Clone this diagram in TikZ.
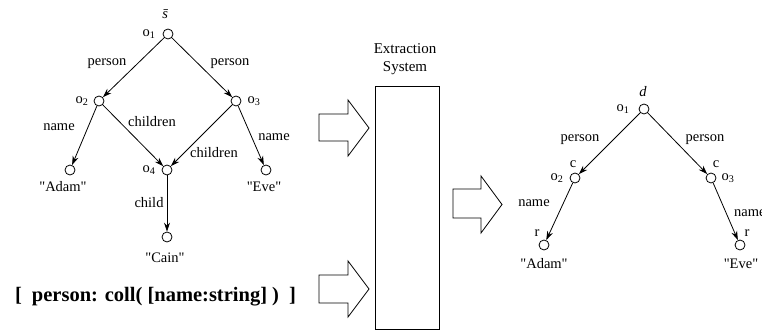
\documentclass[tikz,border=0pt]{standalone}
\usepackage{fontspec}
\setmainfont{Liberation Serif}
\usetikzlibrary{arrows.meta}
\newcommand{\qq}[1]{\textquotedbl#1\textquotedbl}
\begin{document}
\begin{tikzpicture}[x=1pt,y=-1pt,
  vtx/.style={circle,draw,line width=0.8pt,minimum size=10pt,inner sep=0pt},
  lbl/.style={font=\fontsize{14.5}{16}\selectfont,inner sep=0pt},
  arr/.style={line width=0.8pt,-{Stealth[length=9pt,width=6pt]}},
  blk/.style={draw,line width=0.8pt,line join=miter}]
\useasboundingbox (0,0) rectangle (762,334);
% ---- left graph
\node[vtx] (a1) at (168,34) {};
\node[vtx] (a2) at (99,101) {};
\node[vtx] (a3) at (236,101) {};
\node[vtx] (aadam) at (70,170) {};
\node[vtx] (a4) at (167,170) {};
\node[vtx] (aeve) at (266,170) {};
\node[vtx] (acain) at (167,237) {};
\node[lbl] (sbar) at (167,14) {\textit{\=s}};
\node[lbl] (la1) at (149,34) {o\textsubscript{1}};
\node[lbl] (la2) at (82,101) {o\textsubscript{2}};
\node[lbl] (la3) at (254,101) {o\textsubscript{3}};
\node[lbl] (la4) at (149,170) {o\textsubscript{4}};
\node[lbl] (tadam) at (63,187) {\qq{Adam}};
\node[lbl] (teve) at (264,187) {\qq{Eve}};
\node[lbl] (tcain) at (165,258) {\qq{Cain}};
\draw[arr] (a1) -- (a2);
\draw[arr] (a1) -- (a3);
\draw[arr] (a2) -- (aadam);
\draw[arr] (a2) -- (a4);
\draw[arr] (a3) -- (a4);
\draw[arr] (a3) -- (aeve);
\draw[arr] (a4) -- (acain);
\node[lbl] (e1) at (107,64) {person};
\node[lbl] (e2) at (230,64) {person};
\node[lbl] (e3) at (59,127) {name};
\node[lbl] (e4) at (152,122) {children};
\node[lbl] (e5) at (214,153) {children};
\node[lbl] (e6) at (274,137) {name};
\node[lbl] (e7) at (149,203) {child};
\node[inner sep=0pt,font=\fontsize{20.5}{22}\selectfont\bfseries] (schema) at (155.5,297) {[\hspace{10pt}person: coll( [name:string] )\hspace{10pt}]};
% ---- extraction system
\node[draw,line width=0.8pt,minimum width=64pt,minimum height=243pt,inner sep=0pt] (sys) at (407,207.5) {};
\node[lbl,align=center,font=\fontsize{15}{18}\selectfont] (systxt) at (405,59) {Extraction\\System};
\draw[blk] (319,114) -- (348,114) -- (348,100) -- (369,128) -- (348,156) -- (348,141) -- (319,141) -- cycle;
\draw[blk] (319,275) -- (348,275) -- (348,261) -- (369,289) -- (348,317) -- (348,303) -- (319,303) -- cycle;
\draw[blk] (453,189) -- (481,189) -- (481,176) -- (502,204.5) -- (481,233) -- (481,218) -- (453,218) -- cycle;
% ---- right graph
\node[vtx] (b1) at (644,109) {};
\node[vtx] (b2) at (575,178) {};
\node[vtx] (b3) at (711,178) {};
\node[vtx] (badam) at (544,245) {};
\node[vtx] (beve) at (740,245) {};
\node[lbl] (dl) at (643,92) {\textit{d}};
\node[lbl] (lb1) at (623,109) {o\textsubscript{1}};
\node[lbl] (lb2) at (557,178) {o\textsubscript{2}};
\node[lbl] (lb3) at (728,178) {o\textsubscript{3}};
\node[lbl] (c2) at (573,164) {c};
\node[lbl] (c3) at (716,164) {c};
\node[lbl] (r2) at (537,233) {r};
\node[lbl] (r3) at (747,233) {r};
\node[lbl] (tadam2) at (544,264) {\qq{Adam}};
\node[lbl] (teve2) at (741,264) {\qq{Eve}};
\draw[arr] (b1) -- (b2);
\draw[arr] (b1) -- (b3);
\draw[arr] (b2) -- (badam);
\draw[arr] (b3) -- (beve);
\node[lbl] (f1) at (580,140) {person};
\node[lbl] (f2) at (705,140) {person};
\node[lbl] (f3) at (534,203) {name};
\node[lbl,anchor=west] (f4) at (734,213) {name};
\end{tikzpicture}
\end{document}
